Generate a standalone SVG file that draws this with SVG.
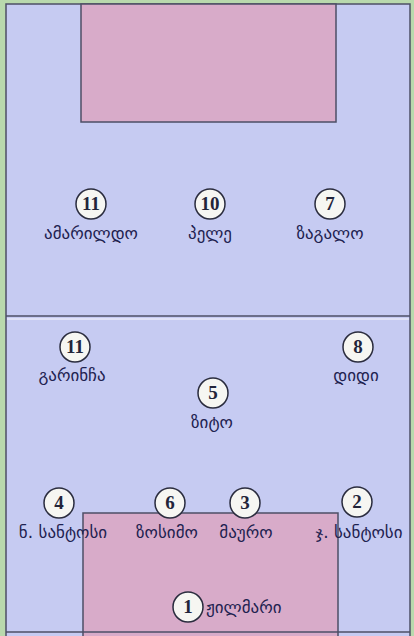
<svg xmlns="http://www.w3.org/2000/svg" width="414" height="636" viewBox="0 0 414 636">
<style>
.line{stroke:#4d4f66;stroke-width:1.5}
.num{font-family:"Liberation Serif",serif;font-weight:bold;font-size:19px;fill:#22243a;text-anchor:middle}
.name{font-family:"DejaVu Sans","Noto Sans",sans-serif;font-size:17px;fill:#1e2250;text-anchor:middle}
.disc{fill:#f6f6f2;stroke:#2a2c3e;stroke-width:1.5}
</style>
<rect x="0" y="0" width="414" height="636" fill="#b9d9ad"/>
<g id="field">
<rect x="6" y="4" width="404" height="640" fill="#c6cbf2" class="line"/>
<rect x="81" y="4" width="255" height="118" fill="#d8abc9" class="line"/>
<rect x="83" y="513" width="255" height="130" fill="#d8abc9" class="line"/>
<line x1="6" y1="316" x2="410" y2="316" class="line"/>
<line x1="7" y1="319" x2="409" y2="319" stroke="#e8eaf8" stroke-width="1.5"/>
<line x1="6" y1="632" x2="410" y2="632" class="line"/>
</g>
<g id="p11a"><circle cx="91" cy="204" r="15" class="disc"/><text x="91" y="210" class="num">11</text><text x="91" y="239" class="name">ამარილდო</text></g>
<g id="p10"><circle cx="210" cy="204" r="15" class="disc"/><text x="210" y="210" class="num">10</text><text x="210" y="239" class="name">პელე</text></g>
<g id="p7"><circle cx="330" cy="204" r="15" class="disc"/><text x="330" y="210" class="num">7</text><text x="330" y="239" class="name">ზაგალო</text></g>
<g id="p11b"><circle cx="75" cy="347" r="15" class="disc"/><text x="75" y="353" class="num">11</text><text x="72" y="381" class="name">გარინჩა</text></g>
<g id="p8"><circle cx="358" cy="347" r="15" class="disc"/><text x="358" y="353" class="num">8</text><text x="356" y="381" class="name">დიდი</text></g>
<g id="p5"><circle cx="213" cy="393" r="15" class="disc"/><text x="213" y="399" class="num">5</text><text x="212" y="428" class="name">ზიტო</text></g>
<g id="p4"><circle cx="59" cy="503" r="15" class="disc"/><text x="59" y="509" class="num">4</text><text x="63" y="538" class="name">ნ. სანტოსი</text></g>
<g id="p6"><circle cx="170" cy="503" r="15" class="disc"/><text x="170" y="509" class="num">6</text><text x="167" y="538" class="name">ზოსიმო</text></g>
<g id="p3"><circle cx="245" cy="503" r="15" class="disc"/><text x="245" y="509" class="num">3</text><text x="246" y="538" class="name">მაურო</text></g>
<g id="p2"><circle cx="357" cy="502" r="15" class="disc"/><text x="357" y="508" class="num">2</text><text x="359" y="538" class="name">ჯ. სანტოსი</text></g>
<g id="p1"><circle cx="188" cy="607" r="15" class="disc"/><text x="188" y="613" class="num">1</text><text x="206" y="613" class="name" style="text-anchor:start">ჟილმარი</text></g>
<g id="connectors"/>
</svg>
